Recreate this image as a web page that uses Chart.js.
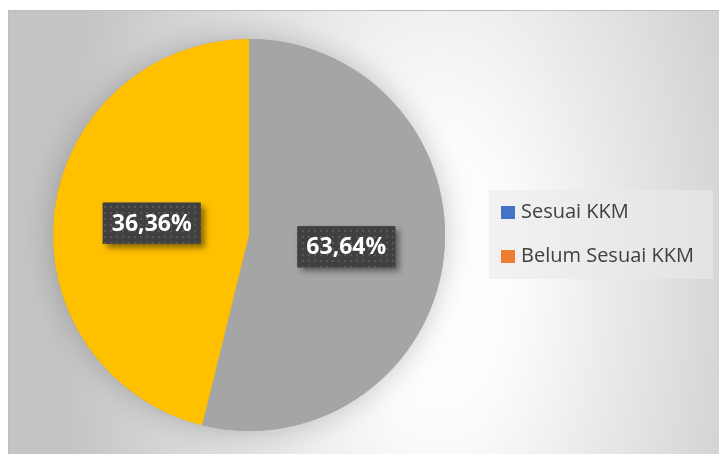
<!DOCTYPE html>
<html>
<head>
<meta charset="utf-8">
<script src="https://cdn.jsdelivr.net/npm/chart.js@4"></script>
<style>
  html, body { margin: 0; padding: 0; background: #ffffff; }
  #wrap { width: 719px; height: 454px; position: relative; }
</style>
</head>
<body>
<div id="wrap"><canvas id="pie"></canvas></div>
<script>
// data
const categories = ['Sesuai KKM', 'Belum Sesuai KKM'];
const values = [7, 6];
const percentLabels = ['63,64%', '36,36%'];
const sliceColors = ['#A5A5A5', '#FFC000'];
const legendColors = ['#4472C4', '#ED7D31'];

// background frame with soft gradient
const backgroundPlugin = {
    id: 'frameBackground',
    beforeDraw(chart) {
        const ctx = chart.ctx;
        ctx.save();
        ctx.fillStyle = '#ffffff';
        ctx.fillRect(0, 0, chart.width, chart.height);

        ctx.save();
        ctx.beginPath();
        ctx.rect(8, 10, chart.width - 8, chart.height - 10);
        ctx.clip();
        ctx.translate(440, 280);
        ctx.scale(1, 1.9);
        const grad = ctx.createRadialGradient(0, 0, 0, 0, 0, 380);
        grad.addColorStop(0, '#ffffff');
        grad.addColorStop(0.2, '#fcfcfc');
        grad.addColorStop(1, '#c4c4c4');
        ctx.fillStyle = grad;
        ctx.fillRect(-500, -200, 1000, 400);
        ctx.restore();

        ctx.strokeStyle = '#bdbdbd';
        ctx.lineWidth = 1;
        ctx.beginPath();
        ctx.moveTo(8.5, chart.height);
        ctx.lineTo(8.5, 10.5);
        ctx.lineTo(chart.width, 10.5);
        ctx.stroke();
        ctx.restore();
    },
    beforeDatasetsDraw(chart) {
        // soft glow behind the pie
        const arc = chart.getDatasetMeta(0).data[0];
        if (!arc) return;
        const ctx = chart.ctx;
        ctx.save();
        ctx.shadowColor = 'rgba(0,0,0,0.22)';
        ctx.shadowBlur = 30;
        ctx.fillStyle = '#a5a5a5';
        ctx.beginPath();
        ctx.arc(arc.x, arc.y, arc.outerRadius, 0, Math.PI * 2);
        ctx.fill();
        ctx.restore();
    }
};

// dotted pattern for the label boxes
function makeDots() {
    const c = document.createElement('canvas');
    c.width = 6; c.height = 6;
    const g = c.getContext('2d');
    g.fillStyle = '#404040';
    g.fillRect(0, 0, 6, 6);
    g.fillStyle = '#575757';
    g.fillRect(2, 2, 2, 2);
    return c;
}

const labelPlugin = {
    id: 'pctLabels',
    afterDatasetsDraw(chart) {
        const ctx = chart.ctx;
        const pattern = ctx.createPattern(makeDots(), 'repeat');
        ctx.save();
        ctx.font = 'bold 23px "Open Sans"';
        chart.getDatasetMeta(0).data.forEach((arc, i) => {
            const pos = arc.tooltipPosition();
            const text = percentLabels[i];
            const w = ctx.measureText(text).width + 18;
            const h = 41;
            const x = pos.x - w / 2;
            const y = pos.y - h / 2;

            ctx.save();
            ctx.shadowColor = 'rgba(0,0,0,0.45)';
            ctx.shadowBlur = 6;
            ctx.shadowOffsetX = 4;
            ctx.shadowOffsetY = 4;
            ctx.fillStyle = '#404040';
            ctx.fillRect(x, y, w, h);
            ctx.restore();

            ctx.fillStyle = pattern;
            ctx.fillRect(x, y, w, h);

            ctx.fillStyle = '#ffffff';
            ctx.textAlign = 'center';
            ctx.textBaseline = 'middle';
            ctx.fillText(text, pos.x, pos.y + 1);
        });
        ctx.restore();
    }
};

const legendPlugin = {
    id: 'sideLegend',
    afterDraw(chart) {
        const ctx = chart.ctx;
        ctx.save();
        const bg = ctx.createLinearGradient(489, 0, 713, 0);
        bg.addColorStop(0, '#f2f2f2');
        bg.addColorStop(1, '#e3e3e3');
        ctx.fillStyle = bg;
        ctx.fillRect(489, 190, 224, 89);

        ctx.font = '20px "Open Sans"';
        ctx.textBaseline = 'middle';
        categories.forEach((name, i) => {
            const y = 212.5 + i * 44;
            ctx.fillStyle = legendColors[i];
            ctx.fillRect(501, y - 6.5, 14, 13);
            ctx.fillStyle = '#404040';
            ctx.fillText(name, 521, y);
        });
        ctx.restore();
    }
};

const ctx = document.getElementById('pie').getContext('2d');
const chart = new Chart(ctx, {
    type: 'pie',
    data: {
        labels: categories,
        datasets: [{
            data: values,
            backgroundColor: sliceColors,
            borderWidth: 0
        }]
    },
    options: {
        responsive: true,
        maintainAspectRatio: false,
        animation: false,
        layout: {
            padding: { left: 53, right: 274, top: 39, bottom: 23 }
        },
        plugins: {
            legend: { display: false },
            tooltip: { enabled: false }
        }
    },
    plugins: [backgroundPlugin, labelPlugin, legendPlugin]
});
</script>
</body>
</html>
